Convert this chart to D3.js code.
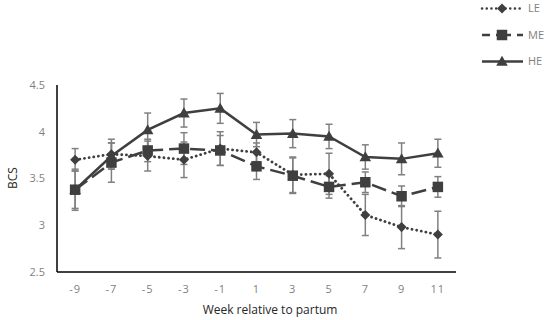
<!DOCTYPE html>
<html>
<head>
<meta charset="utf-8">
<script src="https://cdn.jsdelivr.net/npm/d3@7"></script>
<style>
  body { margin: 0; background: #fff; }
  svg { display: block; }
</style>
</head>
<body>
<svg id="chart" width="550" height="320"></svg>
<script>
var weeks = ["-9", "-7", "-5", "-3", "-1", "1", "3", "5", "7", "9", "11"];
var yTicks = [2.5, 3, 3.5, 4, 4.5];

var leValues = [3.70, 3.76, 3.74, 3.70, 3.82, 3.78, 3.54, 3.55, 3.11, 2.98, 2.90];
var leErrors = [0.12, 0.16, 0.16, 0.19, 0.18, 0.10, 0.19, 0.22, 0.22, 0.23, 0.25];
var meValues = [3.38, 3.67, 3.80, 3.82, 3.80, 3.63, 3.53, 3.41, 3.46, 3.31, 3.41];
var meErrors = [0.22, 0.21, 0.12, 0.17, 0.16, 0.14, 0.19, 0.12, 0.11, 0.11, 0.11];
var heValues = [3.38, 3.74, 4.02, 4.20, 4.25, 3.97, 3.98, 3.95, 3.73, 3.71, 3.77];
var heErrors = [0.20, 0.14, 0.18, 0.15, 0.16, 0.13, 0.15, 0.13, 0.13, 0.17, 0.15];

var svg = d3.select("#chart");
var plotLeft = 57, plotRight = 456, plotTop = 85, plotBottom = 272;

var x = d3.scalePoint().domain(weeks).range([plotLeft, plotRight]).padding(0.5);
var y = d3.scaleLinear().domain([2.5, 4.5]).range([plotBottom, plotTop]);

var series = [
  { name: "LE", values: leValues, errors: leErrors, dash: "0.1,4.6", offset: 0, cap: "round", shape: d3.symbolDiamond2, size: 64 },
  { name: "ME", values: meValues, errors: meErrors, dash: "15,6", offset: 7, cap: "butt", shape: d3.symbolSquare, size: 110 },
  { name: "HE", values: heValues, errors: heErrors, dash: null, offset: 0, cap: "butt", shape: d3.symbolTriangle, size: 58 }
];

var markColor = "#3f3f3f";
var errColor = "#808080";
var textGray = "#7f7f7f";

// error bars first, behind lines and markers
series.forEach(function (s) {
  var g = svg.append("g").attr("stroke", errColor).attr("stroke-width", 1.5);
  weeks.forEach(function (w, i) {
    var cx = x(w), lo = y(s.values[i] - s.errors[i]), hi = y(s.values[i] + s.errors[i]);
    g.append("line").attr("x1", cx).attr("x2", cx).attr("y1", lo).attr("y2", hi);
    g.append("line").attr("x1", cx - 3.5).attr("x2", cx + 3.5).attr("y1", lo).attr("y2", lo);
    g.append("line").attr("x1", cx - 3.5).attr("x2", cx + 3.5).attr("y1", hi).attr("y2", hi);
  });
});

var line = d3.line()
  .x(function (d, i) { return x(weeks[i]); })
  .y(function (d) { return y(d); });

series.forEach(function (s) {
  svg.append("path")
    .datum(s.values)
    .attr("d", line)
    .attr("fill", "none")
    .attr("stroke", markColor)
    .attr("stroke-width", s.name == "LE" ? 2.8 : 2.5)
    .attr("stroke-linecap", s.cap)
    .attr("stroke-dasharray", s.dash);

  svg.append("g").selectAll("path")
    .data(s.values)
    .enter()
    .append("path")
    .attr("d", d3.symbol().type(s.shape).size(s.size))
    .attr("transform", function (d, i) {
      var dy = s.shape === d3.symbolTriangle ? 1 : 0;
      return "translate(" + x(weeks[i]) + "," + (y(d) + dy) + ")";
    })
    .attr("fill", markColor);
});

// axes
svg.append("line").attr("x1", plotLeft).attr("x2", plotLeft).attr("y1", plotTop).attr("y2", plotBottom)
  .attr("stroke", "#000").attr("stroke-width", 1.5);
svg.append("line").attr("x1", plotLeft).attr("x2", plotRight).attr("y1", plotBottom).attr("y2", plotBottom)
  .attr("stroke", "#000").attr("stroke-width", 1.5);

svg.append("g").selectAll("text")
  .data(yTicks)
  .enter()
  .append("text")
  .attr("x", 45)
  .attr("y", function (d) { return y(d); })
  .attr("dy", "0.35em")
  .attr("text-anchor", "end")
  .attr("font-family", "Open Sans, sans-serif")
  .attr("font-size", "11px")
  .attr("fill", textGray)
  .text(function (d) { return d; });

svg.append("g").selectAll("text")
  .data(weeks)
  .enter()
  .append("text")
  .attr("x", function (d) { return x(d); })
  .attr("y", 289)
  .attr("dy", "0.35em")
  .attr("text-anchor", "middle")
  .attr("font-family", "Open Sans, sans-serif")
  .attr("font-size", "11px")
  .attr("letter-spacing", "1px")
  .attr("fill", textGray)
  .text(function (d) { return d; });

svg.append("text")
  .attr("transform", "translate(13,178) rotate(-90)")
  .attr("dy", "0.35em")
  .attr("text-anchor", "middle")
  .attr("font-family", "Open Sans, sans-serif")
  .attr("font-size", "12px")
  .attr("fill", "#262626")
  .text("BCS");

svg.append("text")
  .attr("x", 270)
  .attr("y", 310)
  .attr("dy", "0.35em")
  .attr("text-anchor", "middle")
  .attr("font-family", "Open Sans, sans-serif")
  .attr("font-size", "12px")
  .attr("fill", "#262626")
  .text("Week relative to partum");

// legend
var legend = svg.append("g");
series.forEach(function (s, i) {
  var ly = 8.5 + i * 26.5;
  legend.append("line")
    .attr("x1", 482).attr("x2", 523).attr("y1", ly).attr("y2", ly)
    .attr("stroke", markColor)
    .attr("stroke-width", 2.5)
    .attr("stroke-linecap", s.cap)
    .attr("stroke-dasharray", s.dash)
    .attr("stroke-dashoffset", s.offset);
  legend.append("path")
    .attr("d", d3.symbol().type(s.shape).size(s.size))
    .attr("transform", "translate(502," + (ly + (s.shape === d3.symbolTriangle ? 1 : 0)) + ")")
    .attr("fill", markColor);
  legend.append("text")
    .attr("x", 528).attr("y", ly).attr("dy", "0.35em")
    .attr("font-family", "Open Sans, sans-serif")
    .attr("font-size", "11px")
    .attr("fill", textGray)
    .text(s.name);
});
</script>
</body>
</html>
